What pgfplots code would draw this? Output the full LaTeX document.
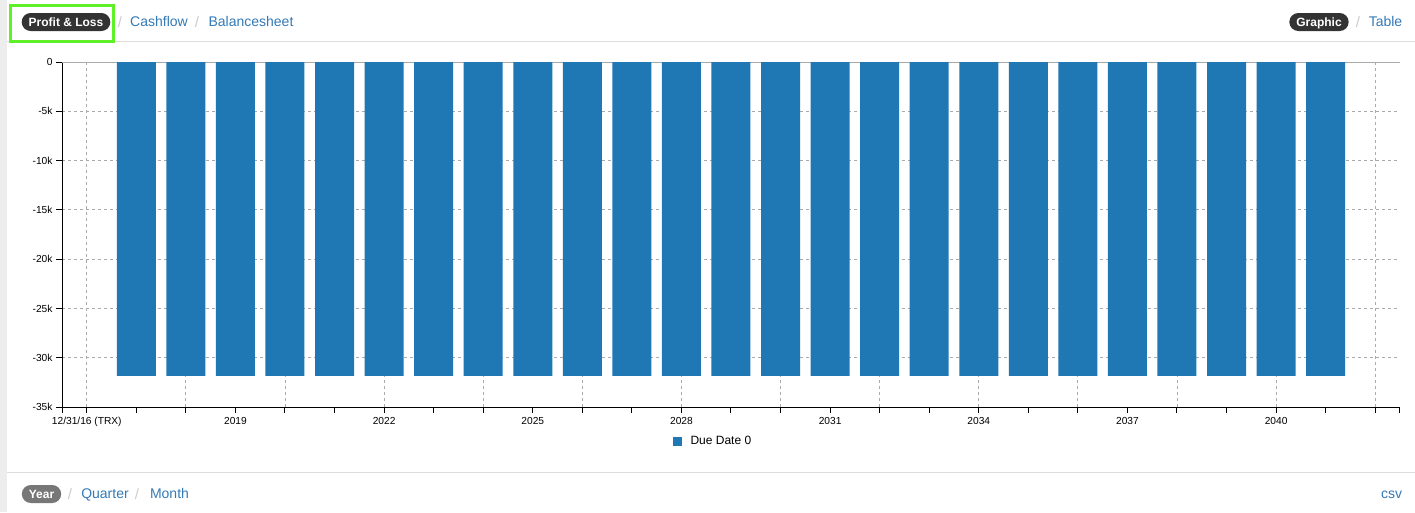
\documentclass[border=0pt]{standalone}
\usepackage{fontspec}
\setmainfont{Liberation Sans}
\usepackage{pgfplots}
\pgfplotsset{compat=1.18}
\definecolor{barblue}{HTML}{1F77B4}
\definecolor{linkblue}{HTML}{337AB7}
\definecolor{pilldark}{HTML}{333333}
\definecolor{pillgray}{HTML}{777777}
\definecolor{sepgray}{HTML}{DDDDDD}
\definecolor{slashgray}{HTML}{CCCCCC}
\definecolor{hlgreen}{RGB}{96,240,40}
\definecolor{gridgray}{HTML}{AAAAAA}
\begin{document}
\begin{tikzpicture}
\path[use as bounding box, fill=white] (0,0) rectangle (1415pt,-512pt);
\fill[black!7] (0,0) rectangle (7pt,-512pt);
\draw[sepgray, line width=1pt] (7pt,-41pt) -- (1415pt,-41pt);
\draw[sepgray, line width=1pt] (7pt,-472pt) -- (1415pt,-472pt);
% top bar
\draw[hlgreen, line width=3pt] (10.5pt,-5.5pt) rectangle (113.5pt,-41.5pt);
\tikzset{pill/.style={text=white, rounded corners=9pt, minimum height=18pt, inner xsep=7pt, inner ysep=0pt, text height=9pt, text depth=1pt, font=\bfseries\fontsize{12}{14}\selectfont},
 link/.style={text=linkblue, inner sep=0pt, text height=10.5pt, text depth=3pt, yshift=-1.5pt, font=\fontsize{14}{16}\selectfont},
 slash/.style={text=slashgray, inner sep=0pt, yshift=-1pt, font=\fontsize{15}{17}\selectfont}}
\node[pill, fill=pilldark] at (66pt,-22pt) {Profit \& Loss};
\node[slash] at (120pt,-21pt) {/};
\node[link] at (159pt,-21pt) {Cashflow};
\node[slash] at (197pt,-21pt) {/};
\node[link] at (251pt,-21pt) {Balancesheet};
\node[pill, fill=pilldark] at (1319pt,-22pt) {Graphic};
\node[slash] at (1358pt,-21pt) {/};
\node[link] at (1385.5pt,-21pt) {Table};
% bottom bar
\node[pill, fill=pillgray] at (41.5pt,-494pt) {Year};
\node[slash] at (70pt,-493pt) {/};
\node[link] at (105pt,-493pt) {Quarter};
\node[slash] at (137pt,-493pt) {/};
\node[link] at (169.5pt,-493pt) {Month};
\node[link] at (1391.5pt,-493pt) {csv};
\begin{axis}[
  at={(62pt,-407pt)}, anchor=south west,
  scale only axis, width=1338pt, height=345pt,
  xmin=-0.5, xmax=26.5, ymin=-35000, ymax=0,
  scaled y ticks=false,
  axis lines=left, axis line style={-, black, line width=1pt},
  tick align=outside, major tick length=6pt,
  tick style={black, line width=1pt},
  xtick={-0.5,0,1,2,3,4,5,6,7,8,9,10,11,12,13,14,15,16,17,18,19,20,21,22,23,24,25,26,26.5},
  xticklabels={{},{12/31/16 (TRX)},{},{},{2019},{},{},{2022},{},{},{2025},{},{},{2028},{},{},{2031},{},{},{2034},{},{},{2037},{},{},{2040},{},{},{}},
  ytick={-35000,-30000,-25000,-20000,-15000,-10000,-5000,0},
  yticklabels={-35k,-30k,-25k,-20k,-15k,-10k,-5k,0},
  ticklabel style={font=\fontsize{10.2}{12}\selectfont, black},
  xticklabel style={yshift=-1pt},
  ymajorgrids,
  grid style={gridgray, line width=0.8pt, dash pattern=on 3pt off 3pt},
  extra x ticks={0,2,4,6,8,10,12,14,16,18,20,22,24,26},
  extra x tick labels={},
  extra x tick style={grid=major, major tick length=0pt},
  legend style={at={(axis description cs:0.4865,-0.0986)}, anchor=center, draw=none, fill=none, column sep=7pt, font=\fontsize{12}{14}\selectfont},
  legend image code/.code={\fill[barblue] (0pt,-4.5pt) rectangle (9pt,4.5pt);},
]
\draw[gridgray, line width=1pt] (axis cs:-0.5,0) -- (axis cs:26.5,0);
\addplot[ybar, bar width=39pt, fill=barblue, draw=none] coordinates {
(1,-31850) (2,-31850) (3,-31850) (4,-31850) (5,-31850) (6,-31850) (7,-31850) (8,-31850) (9,-31850) (10,-31850)
(11,-31850) (12,-31850) (13,-31850) (14,-31850) (15,-31850) (16,-31850) (17,-31850) (18,-31850) (19,-31850) (20,-31850)
(21,-31850) (22,-31850) (23,-31850) (24,-31850) (25,-31850)};
\addlegendentry{Due Date 0}
\end{axis}
\end{tikzpicture}
\end{document}
